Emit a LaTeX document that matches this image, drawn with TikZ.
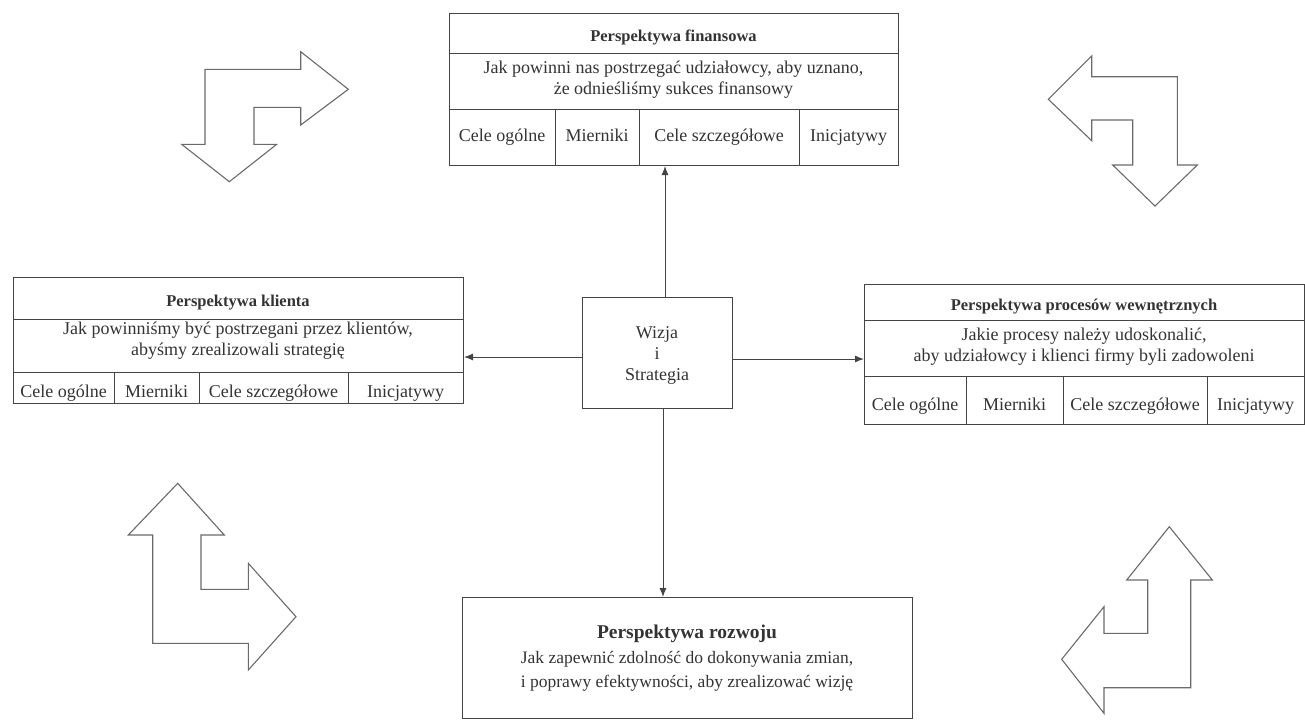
\documentclass[tikz,border=0pt]{standalone}
\usepackage{fontspec}
\setmainfont{Liberation Serif}
\usetikzlibrary{arrows.meta}
\definecolor{linec}{HTML}{444444}
\definecolor{textc}{HTML}{333333}
\definecolor{arrc}{HTML}{6A6A6A}
\begin{document}
\begin{tikzpicture}[x=1pt,y=-1pt,
  frame/.style={draw=linec, line width=1pt, inner sep=0pt, anchor=north west},
  rule/.style={draw=linec, line width=1pt},
  txt/.style={font=\fontsize{18}{21}\selectfont, text=textc, align=center, inner sep=0pt},
  cell/.style={txt, text height=12pt, text depth=4pt},
  ttl/.style={font=\fontsize{16.5}{20}\selectfont\bfseries, text=textc, inner sep=0pt, text height=12pt, text depth=4pt},
  conn/.style={draw=linec, line width=1pt, -{Latex[length=9pt,width=7pt]}},
  blk/.style={draw=arrc, line width=1.1pt, line join=miter}]
\useasboundingbox (0,0) rectangle (1305,724);

% ---- Perspektywa finansowa
\node[frame, minimum width=449pt, minimum height=152pt] (fin) at (449,13) {};
\draw[rule] (449,53) -- (898,53);
\draw[rule] (449,109) -- (898,109);
\draw[rule] (555,109) -- (555,165);
\draw[rule] (639,109) -- (639,165);
\draw[rule] (799,109) -- (799,165);
\node[ttl] (fint) at (673.5,37) {Perspektywa finansowa};
\node[txt] (find) at (673.5,80) {Jak powinni nas postrzegać udziałowcy, aby uznano,\\że odnieśliśmy sukces finansowy};
\node[cell] (f1) at (502,137) {Cele ogólne};
\node[cell] (f2) at (597,137) {Mierniki};
\node[cell] (f3) at (719,137) {Cele szczegółowe};
\node[cell] (f4) at (848.5,137) {Inicjatywy};

% ---- Perspektywa klienta
\node[frame, minimum width=450pt, minimum height=126pt] (kli) at (13,277) {};
\draw[rule] (13,319) -- (463,319);
\draw[rule] (13,372) -- (463,372);
\draw[rule] (114,372) -- (114,403);
\draw[rule] (199,372) -- (199,403);
\draw[rule] (348,372) -- (348,403);
\node[ttl] (klit) at (238,302) {Perspektywa klienta};
\node[txt] (klid) at (238,341) {Jak powinniśmy być postrzegani przez klientów,\\abyśmy zrealizowali strategię};
\node[cell] (k1) at (63.5,393) {Cele ogólne};
\node[cell] (k2) at (156.5,393) {Mierniki};
\node[cell] (k3) at (273.5,393) {Cele szczegółowe};
\node[cell] (k4) at (405.5,393) {Inicjatywy};

% ---- Perspektywa procesow wewnetrznych
\node[frame, minimum width=440pt, minimum height=140pt] (pro) at (864,284) {};
\draw[rule] (864,320) -- (1304,320);
\draw[rule] (864,376) -- (1304,376);
\draw[rule] (966,376) -- (966,424);
\draw[rule] (1063,376) -- (1063,424);
\draw[rule] (1207,376) -- (1207,424);
\node[ttl] (prot) at (1084,306) {Perspektywa procesów wewnętrznych};
\node[txt] (prod) at (1084,347) {Jakie procesy należy udoskonalić,\\aby udziałowcy i klienci firmy byli zadowoleni};
\node[cell] (p1) at (915,406) {Cele ogólne};
\node[cell] (p2) at (1014.5,406) {Mierniki};
\node[cell] (p3) at (1135,406) {Cele szczegółowe};
\node[cell] (p4) at (1255.5,406) {Inicjatywy};

% ---- Wizja i Strategia
\node[frame, minimum width=150pt, minimum height=111pt] (wiz) at (582,297) {};
\node[txt] (wizt) at (657,355) {Wizja\\i\\Strategia};

% ---- Perspektywa rozwoju
\node[frame, minimum width=450pt, minimum height=121pt] (roz) at (462,597) {};
\node[font=\fontsize{19.5}{24}\selectfont\bfseries, text=textc, inner sep=0pt] (rozt) at (687,634) {Perspektywa rozwoju};
\node[txt, font=\fontsize{17.5}{24}\selectfont] (rozd) at (687,671) {Jak zapewnić zdolność do dokonywania zmian,\\i poprawy efektywności, aby zrealizować wizję};

% ---- connectors
\coordinate (wn) at (665,297);
\coordinate (ws) at (663,408);
\coordinate (ww) at (582,357);
\coordinate (we) at (732,359);
\draw[conn] (wn) -- (wn |- fin.south);
\draw[conn] (ws) -- (ws |- roz.north);
\draw[conn] (ww) -- (ww -| kli.east);
\draw[conn] (we) -- (we -| pro.west);

% ---- block arrows
\draw[blk] (205,69.3) -- (300.7,69.3) -- (300.7,51.7) -- (348.3,89.3) -- (300.7,125) -- (300.7,107.3) -- (254,107.3) -- (254,144.3) -- (276.7,144.3) -- (229.3,181.7) -- (181.7,144.3) -- (205,144.3) -- cycle;
\draw[blk] (1048.3,99.3) -- (1091.7,56) -- (1091.7,76.7) -- (1177.3,76.7) -- (1177.3,165) -- (1197.3,165) -- (1155,206) -- (1112.7,165) -- (1132.7,165) -- (1132.7,120) -- (1091.7,120) -- (1091.7,140.7) -- cycle;
\draw[blk] (177.7,483.3) -- (224.3,535) -- (201,535) -- (201,589.3) -- (248.3,589.3) -- (248.3,563.3) -- (296,616.7) -- (248.3,670) -- (248.3,643.3) -- (152.7,643.3) -- (152.7,535) -- (128.3,535) -- cycle;
\draw[blk] (1169.3,526.7) -- (1212.3,580) -- (1190.7,580) -- (1190.7,687.7) -- (1104,687.7) -- (1104,713.3) -- (1061.7,659.3) -- (1104,606.7) -- (1104,633.3) -- (1147.7,633.3) -- (1147.7,580) -- (1126.7,580) -- cycle;
\end{tikzpicture}
\end{document}
